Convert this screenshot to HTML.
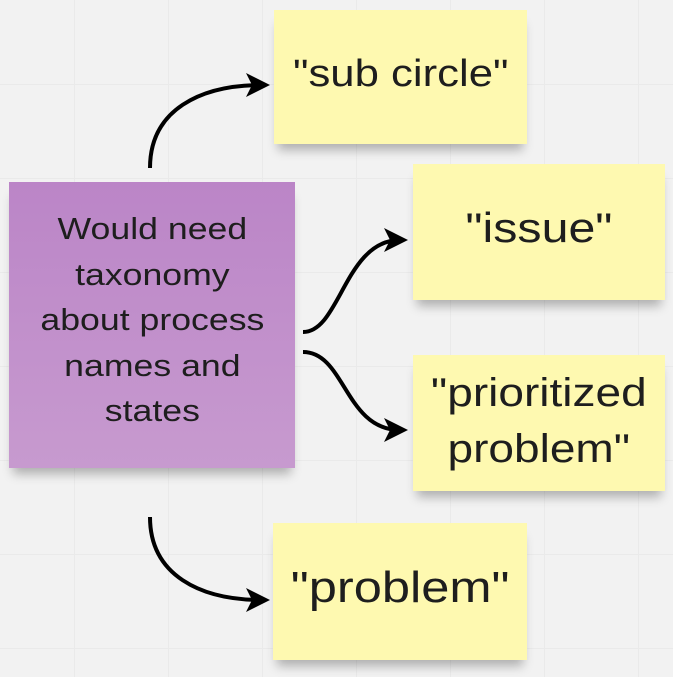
<!DOCTYPE html>
<html><head><meta charset="utf-8"><style>
body{margin:0;width:673px;height:677px;overflow:hidden;background:#f2f2f2;
background-image:linear-gradient(#eaeaea 1px,transparent 1px),linear-gradient(90deg,#eaeaea 1px,transparent 1px);background-size:94px 94px;background-position:-20px -10px;
font-family:"Liberation Sans",sans-serif;color:#1e1e1e;position:relative}
.n{position:absolute;display:flex;align-items:center;justify-content:center;text-align:center;box-shadow:0 10px 10px -4px rgba(0,0,0,0.28)}
.y{background:#fef9b0}
.s{display:inline-block;transform:scaleX(1.15)}
</style></head><body>
<div class="n" style="left:9px;top:182px;width:286px;height:286px;background:linear-gradient(#bb85c7,#c79acf);font-size:31px;line-height:45.5px;padding-bottom:10px;box-sizing:border-box"><span class="s">Would need<br>taxonomy<br>about process<br>names and<br>states</span></div>
<div class="n y" style="left:274px;top:10px;width:253px;height:134px;font-size:38px;align-items:flex-start;padding-top:43px;box-sizing:border-box"><span class="s">"sub circle"</span></div>
<div class="n y" style="left:413px;top:164px;width:252px;height:136px;font-size:42px;align-items:flex-start;padding-top:40px;box-sizing:border-box"><span class="s">"issue"</span></div>
<div class="n y" style="left:413px;top:355px;width:252px;height:136px;font-size:40px;line-height:56px;align-items:flex-start;padding-top:10px;box-sizing:border-box"><span class="s">"prioritized<br>problem"</span></div>
<div class="n y" style="left:273px;top:523px;width:254px;height:137px;font-size:44px;align-items:flex-start;padding-top:40px;box-sizing:border-box"><span class="s">"problem"</span></div>
<svg width="673" height="677" style="position:absolute;left:0;top:0" fill="none" stroke="#000" stroke-width="4">
<defs><marker id="a" markerWidth="6" markerHeight="6" refX="4" refY="3" orient="auto" markerUnits="strokeWidth"><path d="M0,0L6,3L0,6L1.5,3Z" fill="#000" stroke="none"/></marker></defs>
<path d="M150,168C150,110 200,85 262,85" marker-end="url(#a)"/>
<path d="M303,332C340,332 345,240 400,240" marker-end="url(#a)"/>
<path d="M303,352C345,352 345,430 400,430" marker-end="url(#a)"/>
<path d="M150,517C150,575 200,600 262,600" marker-end="url(#a)"/>
</svg>
</body></html>
